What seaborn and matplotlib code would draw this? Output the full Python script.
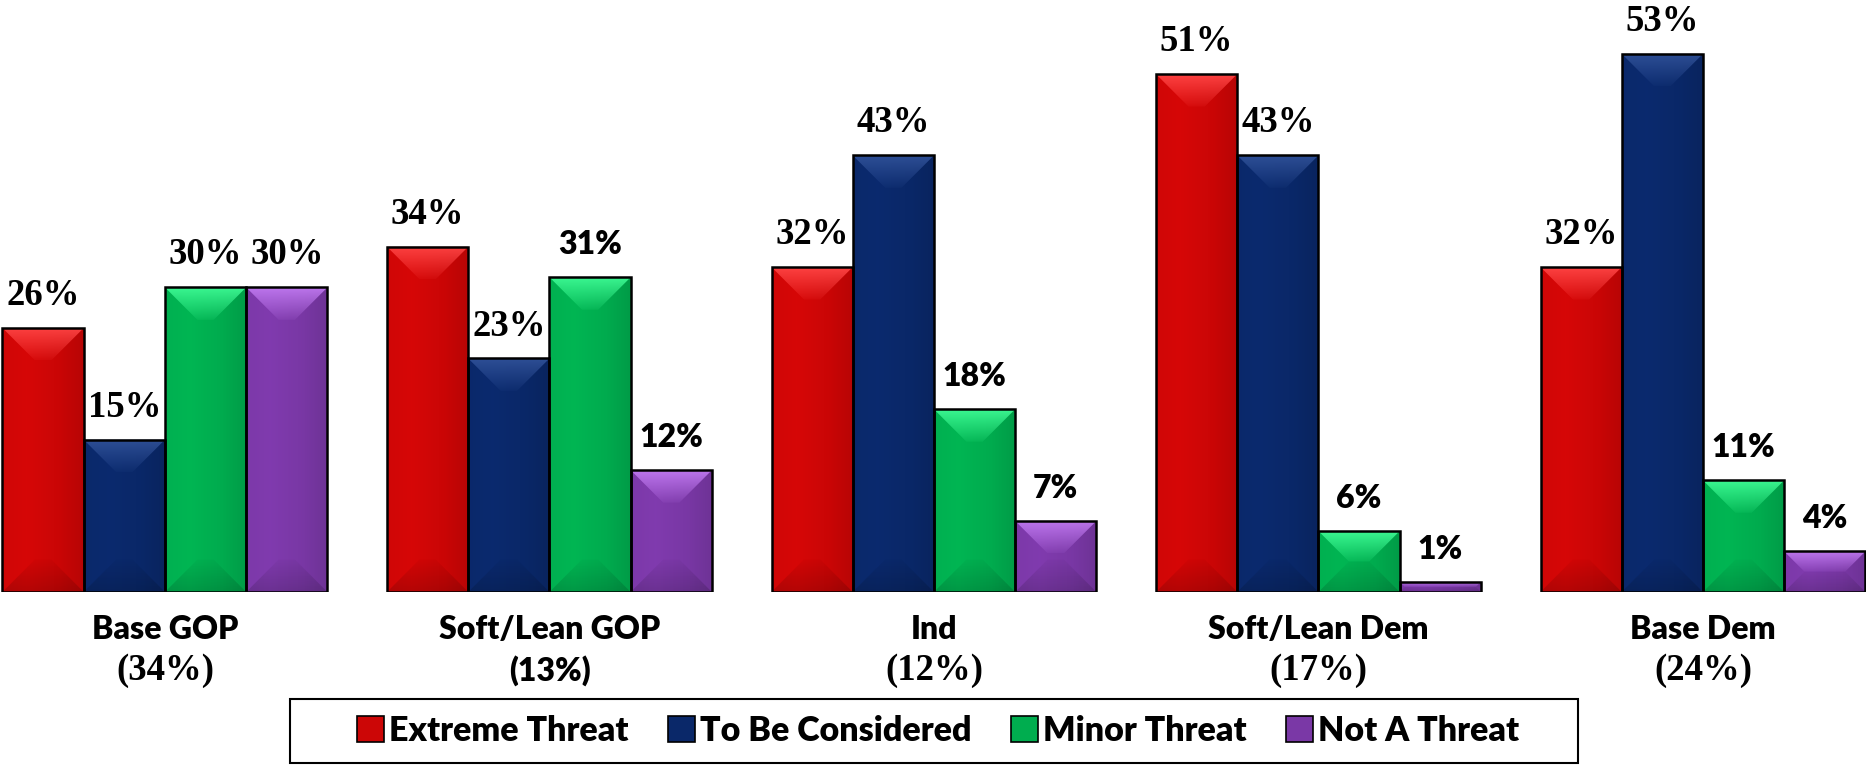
import colorsys

import numpy as np
import pandas as pd
import seaborn as sns
import matplotlib.pyplot as plt
import matplotlib.colors as mcolors
from matplotlib.patches import Polygon, Rectangle

groups = ["Base GOP", "Soft/Lean GOP", "Ind", "Soft/Lean Dem", "Base Dem"]
shares = ["(34%)", "(13%)", "(12%)", "(17%)", "(24%)"]
series = ["Extreme Threat", "To Be Considered", "Minor Threat", "Not A Threat"]

extreme = [26, 34, 32, 51, 32]
considered = [15, 23, 43, 43, 53]
minor = [30, 31, 18, 6, 11]
not_threat = [30, 12, 7, 1, 4]

colors = ["#CC0606", "#0A2869", "#00AD4F", "#7A38A6"]

# the source deck mixes two faces for the labels
sans_labels = {
    "Extreme Threat": [False] * 5,
    "To Be Considered": [False] * 5,
    "Minor Threat": [False, True, True, True, True],
    "Not A Threat": [False, True, True, True, True],
}
share_sans = [False, True, False, False, False]

SERIF = dict(family="Liberation Serif", weight="bold", size=26.5)
SANS = dict(family="Lato", weight="heavy", size=23)

rows = []
for s, vals in zip(series, [extreme, considered, minor, not_threat]):
    for g, v in zip(groups, vals):
        rows.append({"group": g, "series": s, "value": v})
df = pd.DataFrame(rows)


def shade(c, v_mult, s_mult=1.0):
    r, g, b = mcolors.to_rgb(c)
    h, s, v = colorsys.rgb_to_hsv(r, g, b)
    return np.array(colorsys.hsv_to_rgb(h, min(1, s * s_mult), min(1, v * v_mult)))


fig = plt.figure(figsize=(18.66, 7.65), dpi=100)
ax = fig.add_axes([0, 173 / 765, 1, 592 / 765])

sns.barplot(data=df, x="group", y="value", hue="series", order=groups,
            hue_order=series, palette=colors, saturation=1, width=0.845,
            gap=0, linewidth=1.8, edgecolor="black", legend=False, ax=ax)

ax.set_xlim(-0.429, 4.424)
ax.set_ylim(0, 58.3)
ax.set_axis_off()

# bevel look: horizontal body gradient, light top and dark bottom trapezoids
inv = ax.transData.inverted()
profile = np.interp(np.linspace(0, 1, 64), [0, 0.3, 0.7, 1], [1.02, 1.05, 0.99, 0.9])
for p in list(ax.patches):
    base = p.get_facecolor()[:3]
    x0, w, h = p.get_x(), p.get_width(), p.get_height()
    body = np.array([shade(base, f) for f in profile])[None, :, :]
    im = ax.imshow(body, extent=(x0, x0 + w, 0, h), aspect="auto", zorder=1.1)
    im.set_clip_path(p)

    (px0, py0), (px1, py1) = ax.transData.transform([(x0, 0), (x0 + w, h)])
    d = min(0.4 * (px1 - px0), (py1 - py0) / 2)
    top = inv.transform([(px0, py1), (px1, py1), (px1 - d, py1 - d), (px0 + d, py1 - d)])
    bot = inv.transform([(px0, py0), (px1, py0), (px1 - d, py0 + d), (px0 + d, py0 + d)])
    dd = h - top[2][1]

    light = shade(base, 1.45, 0.75)
    grad = np.zeros((32, 1, 4))
    grad[:, 0, :3] = light
    grad[:, 0, 3] = np.linspace(0.95, 0.1, 32)
    poly = Polygon(top, closed=True, transform=ax.transData)
    im = ax.imshow(grad, extent=(x0, x0 + w, h - dd, h), aspect="auto", zorder=1.2)
    im.set_clip_path(poly)

    dark = np.zeros((32, 1, 4))
    dark[:, 0, 3] = np.linspace(0.02, 0.16, 32)
    poly = Polygon(bot, closed=True, transform=ax.transData)
    im = ax.imshow(dark, extent=(x0, x0 + w, 0, dd), aspect="auto", zorder=1.2)
    im.set_clip_path(poly)

    p.set_facecolor("none")
    p.set_zorder(1.5)

ax.set_xlim(-0.429, 4.424)
ax.set_ylim(0, 58.3)

for s, cont, vals in zip(series, ax.containers, [extreme, considered, minor, not_threat]):
    for bar, v, is_sans in zip(cont, vals, sans_labels[s]):
        ax.annotate(f"{v}%", (bar.get_x() + bar.get_width() / 2, bar.get_height()),
                    xytext=(0, 16.5), textcoords="offset points", ha="center",
                    va="baseline", **(SANS if is_sans else SERIF))

tr = ax.get_xaxis_transform()
for i, (g, sh, is_sans) in enumerate(zip(groups, shares, share_sans)):
    ax.text(i, -0.064, g, transform=tr, ha="center", va="center", **SANS)
    ax.text(i, -0.132, sh, transform=tr, ha="center", va="center",
            **(SANS if is_sans else SERIF))

handles = [Rectangle((0, 0), 1, 1, facecolor=c, edgecolor="black", linewidth=1.2)
           for c in colors]
leg = fig.legend(handles, series, loc="center", bbox_to_anchor=(938 / 1866, 1 - 731 / 765),
                 ncol=4, frameon=False,
                 prop=dict(family="Lato", weight="heavy", size=24.5),
                 handlelength=0.8, handleheight=0.8, handletextpad=0.15,
                 columnspacing=1.15, borderpad=0.3, borderaxespad=0)

# legend box, wider than the entries as in the source slide
fig.add_artist(Rectangle((290 / 1866, 2 / 765), 1288 / 1866, 64 / 765,
                         transform=fig.transFigure, facecolor="none",
                         edgecolor="black", linewidth=1.5))

fig.savefig("out.png", dpi=100)
